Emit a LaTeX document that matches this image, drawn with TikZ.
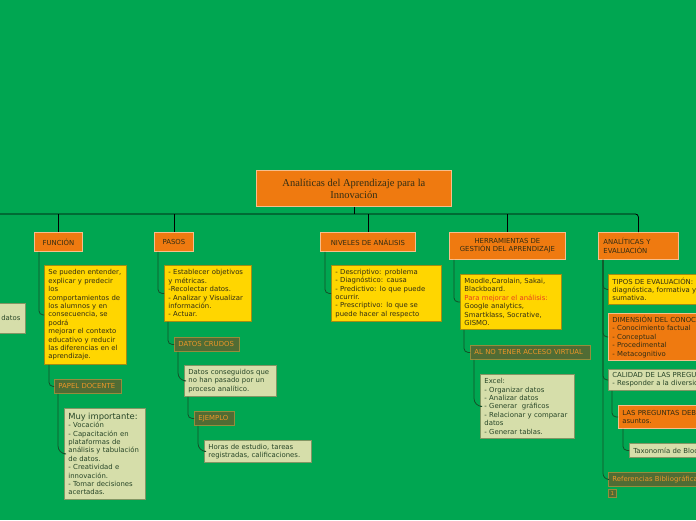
\documentclass[tikz,border=0pt]{standalone}
\usepackage{fontspec}
\setmainfont{DejaVu Sans}
\newfontfamily\titlefont{Liberation Serif}
\usepackage{tikz}

\definecolor{mapgreen}{RGB}{0,166,81}
\definecolor{toporange}{RGB}{239,122,16}
\definecolor{toporangeline}{RGB}{246,190,140}
\definecolor{noteyellow}{RGB}{255,214,0}
\definecolor{noteyellowline}{RGB}{160,140,20}
\definecolor{palegreen}{RGB}{214,222,170}
\definecolor{palegreenline}{RGB}{130,150,100}
\definecolor{tagolive}{RGB}{80,108,52}
\definecolor{tagoliveline}{RGB}{150,140,60}
\definecolor{tagtext}{RGB}{236,150,40}
\definecolor{darktext}{RGB}{50,45,20}
\definecolor{paletext}{RGB}{40,70,40}
\definecolor{linkgreen}{RGB}{20,80,40}
\definecolor{redtext}{RGB}{232,64,32}

\newcommand{\mapfont}{\fontsize{6.9}{8.4}\selectfont}

\tikzset{
    topic/.style={draw=toporangeline, fill=toporange, text=darktext, font=\mapfont,
        anchor=north west, align=center, inner sep=1pt, line width=0.8pt},
    note/.style={draw=noteyellowline, fill=noteyellow, text=darktext, font=\mapfont,
        anchor=north west, align=left, inner xsep=4pt, inner ysep=2pt, line width=0.8pt},
    palenote/.style={draw=palegreenline, fill=palegreen, text=paletext, font=\mapfont,
        anchor=north west, align=left, inner xsep=4pt, inner ysep=2pt, line width=0.8pt},
    orangenote/.style={note, draw=toporangeline, fill=toporange},
    tag/.style={draw=tagoliveline, fill=tagolive, text=tagtext, font=\mapfont,
        anchor=north west, align=left, inner xsep=4pt, inner ysep=1pt, line width=0.8pt},
    bus/.style={draw=black, line width=0.8pt},
    link/.style={draw=linkgreen, line width=0.8pt, rounded corners=4pt}
}

\begin{document}
\begin{tikzpicture}[x=1pt, y=-1pt]
    \useasboundingbox (0,0) rectangle (696,520);
    \fill[mapgreen] (0,0) rectangle (696,520);
    \clip (0,0) rectangle (696,520);

    % central topic
    \node[topic, draw=toporangeline, minimum width=195pt, minimum height=36pt,
        font=\titlefont\fontsize{10.5}{12}\selectfont] (title) at (256,170)
        {Analíticas del Aprendizaje para la\\Innovación};

    % main topics
    \node[topic, minimum width=48pt, minimum height=19pt] (funcion) at (34,232) {FUNCIÓN};
    \node[topic, minimum width=39pt, minimum height=19pt] (pasos) at (154,232) {PASOS};
    \node[topic, minimum width=95pt, minimum height=19pt] (niveles) at (320,232) {NIVELES DE ANÁLISIS};
    \node[topic, minimum width=116pt, minimum height=27pt] (herram) at (449,232)
        {HERRAMIENTAS DE\\GESTIÓN DEL APRENDIZAJE};
    \node[topic, minimum width=80pt, minimum height=27pt, align=left, inner xsep=4pt,
        text width=70pt] (analit) at (598,232) {ANALÍTICAS Y\\EVALUACIÓN};

    \coordinate (busleft) at (0,214);
    \draw[bus] (title.south) -- (title.south |- busleft);
    \draw[bus, rounded corners=3pt] (busleft) -| (analit.north);
    \draw[bus] (funcion.north |- busleft) -- (funcion.north);
    \draw[bus] (pasos.north |- busleft) -- (pasos.north);
    \draw[bus] (niveles.north |- busleft) -- (niveles.north);
    \draw[bus] (herram.north |- busleft) -- (herram.north);

    % left, cut by the edge
    \node[palenote, text width=75pt, align=right, inner xsep=5pt, minimum height=30pt]
        (datos) at (-60,303) {datos};

    % FUNCION
    \node[note, text width=74pt, minimum height=99pt] (funcnote) at (44,265)
        {Se pueden entender,\\explicar y predecir\\los\\comportamientos de\\los alumnos y en\\consecuencia, se\\podrá\\mejorar el contexto\\educativo y reducir\\las diferencias en el\\aprendizaje.};
    \node[tag, text width=59pt, minimum height=14pt] (papel) at (54,379) {PAPEL DOCENTE};
    \node[palenote, text width=73pt, minimum height=91pt] (muy) at (64,408)
        {{\fontsize{8.4}{9.5}\selectfont Muy importante:}\\- Vocación\\- Capacitación en\\plataformas de\\análisis y tabulación\\de datos.\\- Creatividad e\\innovación.\\- Tomar decisiones\\acertadas.};
    \draw[link] ([xshift=5pt]funcion.south west) |- (funcnote.west);
    \draw[link] ([xshift=5pt]funcnote.south west) |- (papel.west);
    \draw[link, rounded corners=8pt] ([xshift=4pt]papel.south west) |- (muy.west);

    % PASOS
    \node[note, text width=79pt, minimum height=56pt] (pasosnote) at (164,265)
        {- Establecer objetivos\\y métricas.\\-Recolectar datos.\\- Analizar y Visualizar\\información.\\- Actuar.};
    \node[tag, text width=57pt, minimum height=14pt] (crudos) at (174,337) {DATOS CRUDOS};
    \node[palenote, text width=84pt, minimum height=31pt] (conseg) at (184,365)
        {Datos conseguidos que\\no han pasado por un\\proceso analítico.};
    \node[tag, text width=32pt, minimum height=14pt] (ejemplo) at (194,411) {EJEMPLO};
    \node[palenote, text width=99pt, minimum height=22pt] (horas) at (204,440)
        {Horas de estudio, tareas\\registradas, calificaciones.};
    \draw[link] ([xshift=4pt]pasos.south west) |- (pasosnote.west);
    \draw[link] ([xshift=4pt]pasosnote.south west) |- (crudos.west);
    \draw[link, rounded corners=8pt] ([xshift=4pt]crudos.south west) |- (conseg.west);
    \draw[link] ([xshift=4pt]conseg.south west) |- (ejemplo.west);
    \draw[link, rounded corners=8pt] ([xshift=4pt]ejemplo.south west) |- (horas.west);

    % NIVELES
    \node[note, text width=102pt, minimum height=56pt] (nivnote) at (331,265)
        {- Descriptivo: problema\\- Diagnóstico: causa\\- Predictivo: lo que puede\\ocurrir.\\- Prescriptivo: lo que se\\puede hacer al respecto};
    \draw[link] ([xshift=5pt]niveles.south west) |- (nivnote.west);

    % HERRAMIENTAS
    \node[note, text width=93pt, minimum height=55pt] (herrnote) at (460,274)
        {Moodle,Carolain, Sakai,\\Blackboard.\\\textcolor{redtext}{Para mejorar el análisis:}\\Google analytics,\\Smartklass, Socrative,\\GISMO.};
    \node[tag, text width=112pt, minimum height=14pt] (novirtual) at (470,345) {AL NO TENER ACCESO VIRTUAL};
    \node[palenote, text width=86pt, minimum height=64pt] (excel) at (480,374)
        {Excel:\\- Organizar datos\\- Analizar datos\\- Generar~ gráficos\\- Relacionar y comparar\\datos\\- Generar tablas.};
    \draw[link] ([xshift=5pt]herram.south west) |- (herrnote.west);
    \draw[link] ([xshift=4pt]herrnote.south west) |- (novirtual.west);
    \draw[link, rounded corners=8pt] ([xshift=4pt]novirtual.south west) |- (excel.west);

    % ANALITICAS, cut by the edge
    \node[note, text width=120pt, minimum height=30pt] (tipos) at (608,274)
        {TIPOS DE EVALUACIÓN:\\diagnóstica, formativa y\\sumativa.};
    \node[orangenote, text width=120pt, minimum height=47pt] (dimension) at (608,313)
        {DIMENSIÓN DEL CONOCIMIENTO\\- Conocimiento factual\\- Conceptual\\- Procedimental\\- Metacognitivo};
    \node[palenote, text width=130pt, minimum height=21pt] (calidad) at (608,369)
        {CALIDAD DE LAS PREGUNTAS\\- Responder a la diversidad};
    \node[orangenote, text width=120pt, minimum height=23pt] (preguntas) at (618,405)
        {LAS PREGUNTAS DEBEN\\asuntos.};
    \node[palenote, text width=110pt, minimum height=14pt, inner ysep=1pt] (taxonomia) at (629,443)
        {Taxonomía de Bloom};
    \node[tag, text width=120pt, minimum height=14pt] (referencias) at (608,472)
        {Referencias Bibliográficas};
    \node[tag, inner sep=0.5pt, minimum width=8pt, minimum height=8pt, align=center,
        font=\fontsize{5.5}{6}\selectfont] (badge) at (608,489) {1};
    \draw[link] ([xshift=5pt]analit.south west) |- (tipos.west);
    \draw[link] ([xshift=5pt]analit.south west) |- (dimension.west);
    \draw[link] ([xshift=5pt]analit.south west) |- (calidad.west);
    \draw[link, rounded corners=6pt] ([xshift=5pt]analit.south west) |- (referencias.west);
    \draw[link] ([xshift=4pt]calidad.south west) |- (preguntas.west);
    \draw[link] ([xshift=5pt]preguntas.south west) |- (taxonomia.west);
\end{tikzpicture}
\end{document}
